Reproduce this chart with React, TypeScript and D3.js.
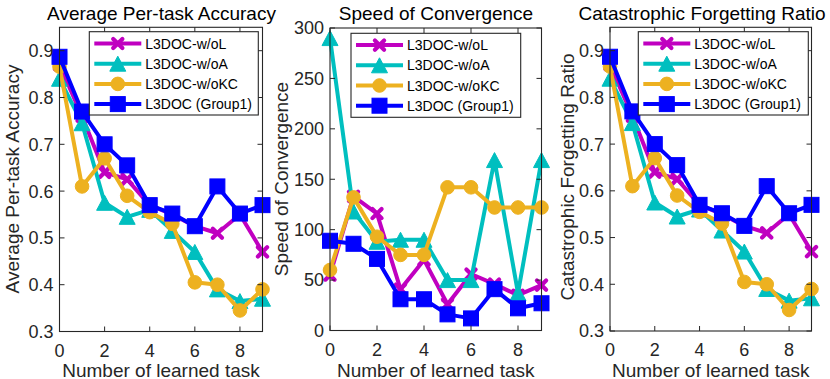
import React from "react";
import * as d3 from "d3";

// ---------- data ----------
const tasks = [0, 1, 2, 3, 4, 5, 6, 7, 8, 9];
const xTicks = [0, 2, 4, 6, 8];

const accWoL = [0.87, 0.76, 0.64, 0.625, 0.57, 0.55, 0.525, 0.51, 0.55, 0.47];
const accWoA = [0.84, 0.745, 0.575, 0.545, 0.56, 0.515, 0.47, 0.39, 0.365, 0.37];
const accWoKC = [0.866, 0.61, 0.67, 0.59, 0.555, 0.53, 0.405, 0.4, 0.345, 0.39];
const accFull = [0.887, 0.77, 0.7, 0.655, 0.57, 0.552, 0.525, 0.61, 0.552, 0.57];
const accTicks = [0.3, 0.4, 0.5, 0.6, 0.7, 0.8, 0.9];

const spdWoL = [55, 133, 116, 41, 70, 26, 56, 46, 35, 45];
const spdWoA = [290, 118, 88, 90, 90, 50, 50, 169, 37, 169];
const spdWoKC = [60, 132, 93, 75, 75, 142, 142, 122, 122, 122];
const spdFull = [89, 86, 71, 31, 31, 16, 12, 41, 22, 27];
const spdTicks = [0, 50, 100, 150, 200, 250, 300];

const cfrWoL = [0.87, 0.76, 0.64, 0.625, 0.57, 0.55, 0.525, 0.51, 0.55, 0.47];
const cfrWoA = [0.84, 0.745, 0.575, 0.545, 0.56, 0.515, 0.47, 0.39, 0.365, 0.37];
const cfrWoKC = [0.866, 0.61, 0.67, 0.59, 0.555, 0.53, 0.405, 0.4, 0.345, 0.39];
const cfrFull = [0.887, 0.77, 0.7, 0.655, 0.57, 0.552, 0.525, 0.61, 0.552, 0.57];

const seriesNames = ["L3DOC-w/oL", "L3DOC-w/oA", "L3DOC-w/oKC", "L3DOC (Group1)"];
const seriesColors = ["#C000C0", "#00BFBF", "#EDB120", "#0000FF"];
const seriesMarkers = ["x", "tri", "circle", "square"];

const FONT = "'Liberation Sans', Arial, Helvetica, sans-serif";
const AX = "#262626";

function Marker({ kind, x, y, color }: { kind: string; x: number; y: number; color: string }) {
  if (kind === "square") {
    const s = 15;
    return <rect x={x - s / 2} y={y - s / 2} width={s} height={s} fill={color} stroke={color} strokeWidth={1} />;
  }
  if (kind === "circle") {
    return <circle cx={x} cy={y} r={6.8} fill={color} stroke={color} strokeWidth={1} />;
  }
  if (kind === "tri") {
    const h = 15, w = 16;
    const p = `${x},${y - h / 2} ${x + w / 2},${y + h / 2} ${x - w / 2},${y + h / 2}`;
    return <polygon points={p} fill={color} stroke={color} strokeWidth={1} />;
  }
  const a = 4.6;
  return (
    <g stroke={color} strokeWidth={4.2} strokeLinecap="round">
      <line x1={x - a} y1={y - a} x2={x + a} y2={y + a} />
      <line x1={x - a} y1={y + a} x2={x + a} y2={y - a} />
    </g>
  );
}

type PanelProps = {
  x0: number; x1: number; yTop: number; yBot: number;
  yDomain: [number, number]; yTicks: number[]; yFmt: (v: number) => string;
  series: number[][];
  title: string; titleX: number;
  ylabel: string; ylabelX: number; ylabelY: number;
  legX: number; legY: number; legW: number; legH: number;
};

function Panel(p: PanelProps) {
  const xs = d3.scaleLinear().domain([0, 9]).range([p.x0, p.x1]);
  const ys = d3.scaleLinear().domain(p.yDomain).range([p.yBot, p.yTop]);
  const line = d3.line<number>().x((_, i) => xs(tasks[i])).y((d) => ys(d));
  const tl = 5;
  const rowH = 20.2;
  return (
    <g>
      {p.series.map((s, k) => (
        <g key={k}>
          <path d={line(s) || ""} fill="none" stroke={seriesColors[k]} strokeWidth={4} strokeLinejoin="round" />
          {s.map((v, i) => (
            <Marker key={i} kind={seriesMarkers[k]} x={xs(tasks[i])} y={ys(v)} color={seriesColors[k]} />
          ))}
        </g>
      ))}
      {/* axes box */}
      <rect x={p.x0} y={p.yTop} width={p.x1 - p.x0} height={p.yBot - p.yTop} fill="none" stroke={AX} strokeWidth={1.1} />
      {xTicks.map((t) => (
        <g key={"xt" + t}>
          <line x1={xs(t)} x2={xs(t)} y1={p.yBot} y2={p.yBot - tl} stroke={AX} />
          <line x1={xs(t)} x2={xs(t)} y1={p.yTop} y2={p.yTop + tl} stroke={AX} />
          <text x={xs(t)} y={p.yBot + 25} textAnchor="middle" fontSize={18} fill={AX} fontFamily={FONT}>{t}</text>
        </g>
      ))}
      {p.yTicks.map((t) => (
        <g key={"yt" + t}>
          <line x1={p.x0} x2={p.x0 + tl} y1={ys(t)} y2={ys(t)} stroke={AX} />
          <line x1={p.x1} x2={p.x1 - tl} y1={ys(t)} y2={ys(t)} stroke={AX} />
          <text x={p.x0 - 6} y={ys(t) + 6.4} textAnchor="end" fontSize={18} fill={AX} fontFamily={FONT}>{p.yFmt(t)}</text>
        </g>
      ))}
      <text x={p.titleX} y={19.5} textAnchor="middle" fontSize={19} fill="#000" fontFamily={FONT}>{p.title}</text>
      <text x={(p.x0 + p.x1) / 2} y={376.5} textAnchor="middle" fontSize={19} fill={AX} fontFamily={FONT}>Number of learned task</text>
      <text transform={`translate(${p.ylabelX},${p.ylabelY}) rotate(-90)`} textAnchor="middle" fontSize={19} fill={AX} fontFamily={FONT}>{p.ylabel}</text>
      {/* legend */}
      <rect x={p.legX} y={p.legY} width={p.legW} height={p.legH} fill="#fff" stroke={AX} strokeWidth={1.1} />
      {seriesNames.map((n, k) => {
        const cy = p.legY + 11.8 + k * rowH;
        const lx0 = p.legX + 5, lx1 = p.legX + 52;
        return (
          <g key={n}>
            <line x1={lx0} x2={lx1} y1={cy} y2={cy} stroke={seriesColors[k]} strokeWidth={4} />
            <Marker kind={seriesMarkers[k]} x={(lx0 + lx1) / 2} y={cy} color={seriesColors[k]} />
            <text x={lx1 + 4} y={cy + 5} fontSize={14} fill="#000" fontFamily={FONT}>{n}</text>
          </g>
        );
      })}
    </g>
  );
}

export default function App() {
  const f1 = d3.format(".1f");
  const f0 = d3.format("d");
  return (
    <svg width={830} height={379} style={{ position: "absolute", left: 0, top: 0, background: "#fff" }}>
      <rect width={830} height={379} fill="#fff" />
      <Panel x0={59.5} x1={262.5} yTop={27.3} yBot={331.5} yDomain={[0.3, 0.95]} yTicks={accTicks} yFmt={f1}
        series={[accWoL, accWoA, accWoKC, accFull]}
        title="Average Per-task Accuracy" titleX={161.5}
        ylabel="Average Per-task Accuracy" ylabelX={19} ylabelY={179}
        legX={89.3} legY={31.7} legW={169} legH={83.3} />
      <Panel x0={330} x1={541.5} yTop={28} yBot={330.5} yDomain={[0, 300]} yTicks={spdTicks} yFmt={f0}
        series={[spdWoL, spdWoA, spdWoKC, spdFull]}
        title="Speed of Convergence" titleX={436}
        ylabel="Speed of Convergence" ylabelX={288} ylabelY={179}
        legX={351} legY={33.3} legW={169.7} legH={84} />
      <Panel x0={610} x1={811.5} yTop={27.3} yBot={331} yDomain={[0.3, 0.95]} yTicks={accTicks} yFmt={f1}
        series={[cfrWoL, cfrWoA, cfrWoKC, cfrFull]}
        title="Catastrophic Forgetting Ratio" titleX={702}
        ylabel="Catastrophic Forgetting Ratio" ylabelX={574} ylabelY={177}
        legX={638.3} legY={31.7} legW={170} legH={83.3} />
    </svg>
  );
}
